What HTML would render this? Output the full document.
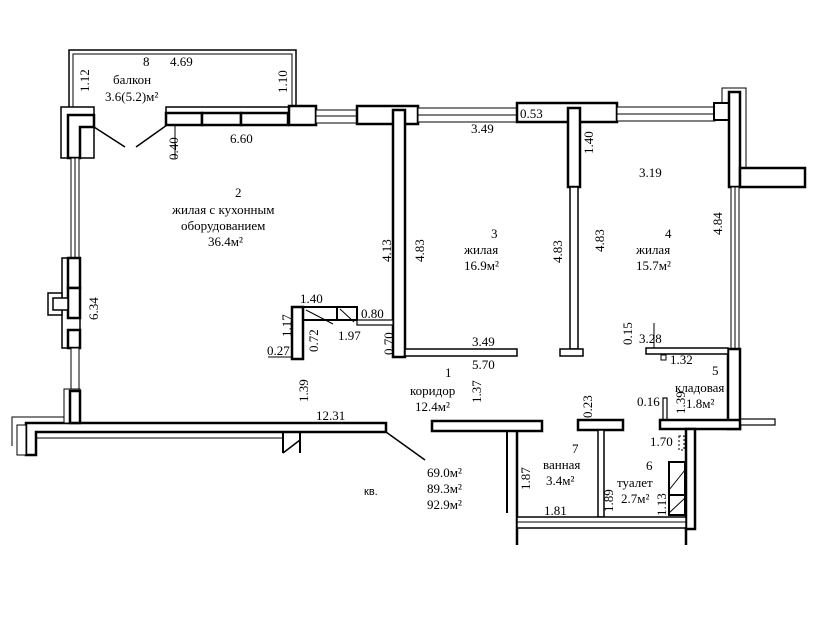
<!DOCTYPE html>
<html><head><meta charset="utf-8"><style>body{margin:0;background:#fff}svg{display:block}text{font-family:"Liberation Serif",serif;font-size:13px;fill:#000}</style></head><body>
<svg width="820" height="632" viewBox="0 0 820 632" xmlns="http://www.w3.org/2000/svg">
<g fill="#fff" stroke="#000" stroke-width="2">
<path d="M69 107 V50 H296 V106" fill="none" stroke-width="1.5"/>
<path d="M73 107 V54 H292 V106" fill="none" stroke-width="1"/>
<rect x="61" y="107" width="33" height="51" stroke-width="1.5"/>
<path d="M68 158 V115 H94 V127 H80 V158 Z" fill="#fff" stroke-width="2.5"/>
<line x1="94" y1="127" x2="125" y2="147" stroke-width="1.5"/>
<line x1="167" y1="125" x2="136" y2="147" stroke-width="1.5"/>
<rect x="166" y="107" width="150" height="6" stroke-width="1.5"/>
<rect x="166" y="113" width="36" height="12" stroke-width="2.5"/>
<rect x="202" y="113" width="39" height="12" stroke-width="2.5"/>
<rect x="241" y="113" width="47" height="12" stroke-width="2.5"/>
<rect x="289" y="106" width="27" height="19" stroke-width="2.5"/>
<rect x="316" y="110" width="42" height="13" stroke-width="1"/>
<line x1="316" y1="116" x2="358" y2="116" stroke-width="1"/>
<rect x="357" y="106" width="61" height="18" stroke-width="2.5"/>
<rect x="393" y="110" width="12" height="247" stroke-width="2.5"/>
<rect x="418" y="108" width="99" height="14" stroke-width="1"/>
<line x1="418" y1="115" x2="517" y2="115" stroke-width="1"/>
<rect x="517" y="103" width="100" height="19" stroke-width="2.5"/>
<rect x="568" y="108" width="12" height="79" stroke-width="2.5"/>
<rect x="570" y="187" width="8" height="162" stroke-width="1.5"/>
<rect x="560" y="349" width="23" height="7" stroke-width="1.5"/>
<rect x="617" y="107" width="98" height="14" stroke-width="1"/>
<line x1="617" y1="114" x2="715" y2="114" stroke-width="1"/>
<path d="M722 107 V88 H746 V168" fill="none" stroke-width="1"/>
<rect x="714" y="103" width="22" height="17" stroke-width="2"/>
<rect x="729" y="92" width="11" height="95" stroke-width="2.5"/>
<rect x="740" y="168" width="65" height="19" stroke-width="2.5"/>
<rect x="731" y="187" width="8" height="162" stroke-width="1"/>
<line x1="735" y1="187" x2="735" y2="349" stroke-width="1"/>
<rect x="728" y="349" width="12" height="80" stroke-width="2.5"/>
<rect x="646" y="348" width="82" height="6" stroke-width="1.5"/>
<rect x="661" y="355" width="5" height="5" stroke-width="1"/>
<line x1="654" y1="323" x2="654" y2="348" stroke-width="1"/>
<rect x="663" y="398" width="4" height="22" stroke-width="1.2"/>
<rect x="740" y="419" width="35" height="6" stroke-width="1.2"/>
<rect x="660" y="420" width="80" height="9" stroke-width="2.5"/>
<rect x="686" y="429" width="9" height="100" stroke-width="2.5"/>
<rect x="669" y="462" width="16" height="53" stroke-width="2"/>
<line x1="669" y1="495" x2="685" y2="495" stroke-width="2"/>
<line x1="669" y1="490" x2="685" y2="470" stroke-width="1"/>
<line x1="669" y1="513" x2="685" y2="498" stroke-width="1"/>
<rect x="679" y="436" width="5" height="14" stroke-width="1" stroke-dasharray="2 2"/>
<rect x="432" y="421" width="110" height="10" stroke-width="2.5"/>
<line x1="507" y1="431" x2="507" y2="513" stroke-width="2"/>
<line x1="517" y1="431" x2="517" y2="545" stroke-width="2.5"/>
<rect x="578" y="420" width="45" height="10" stroke-width="2.5"/>
<rect x="598" y="430" width="6" height="87" stroke-width="1.5"/>
<rect x="517" y="517" width="169" height="11" stroke-width="1.5"/>
<line x1="517" y1="522" x2="686" y2="522" stroke-width="1"/>
<line x1="686" y1="528" x2="686" y2="545" stroke-width="2.5"/>
<path d="M26 423 H386 V432 H36 V455 H26 Z" fill="#fff" stroke-width="2.5"/>
<line x1="36" y1="438" x2="283" y2="438" stroke-width="1"/>
<path d="M12 446 V417 H64 V405 H68" fill="none" stroke-width="1"/>
<rect x="17" y="425" width="9" height="30" stroke-width="1"/>
<line x1="283" y1="432" x2="283" y2="453" stroke-width="2"/>
<line x1="300" y1="432" x2="300" y2="453" stroke-width="2"/>
<line x1="283" y1="453" x2="300" y2="440" stroke-width="1.5"/>
<line x1="386" y1="432" x2="425" y2="460" stroke-width="1.5"/>
<rect x="71" y="158" width="8" height="100" stroke-width="1"/>
<line x1="75" y1="158" x2="75" y2="258" stroke-width="1"/>
<rect x="62" y="258" width="18" height="90" stroke-width="1.5"/>
<rect x="68" y="258" width="12" height="30" stroke-width="2.5"/>
<rect x="68" y="288" width="12" height="30" stroke-width="2.5"/>
<rect x="48" y="293" width="14" height="22" stroke-width="1.5"/>
<rect x="53" y="298" width="15" height="12" stroke-width="1.5"/>
<rect x="68" y="330" width="12" height="18" stroke-width="2.5"/>
<rect x="71" y="348" width="8" height="42" stroke-width="1"/>
<rect x="64" y="389" width="16" height="34" stroke-width="1"/>
<rect x="70" y="391" width="10" height="32" stroke-width="2.5"/>
<rect x="292" y="307" width="65" height="13" stroke-width="2"/>
<rect x="292" y="307" width="11" height="52" stroke-width="2.5"/>
<line x1="337" y1="307" x2="337" y2="320" stroke-width="2"/>
<line x1="306" y1="310" x2="333" y2="324" stroke-width="1"/>
<line x1="340" y1="309" x2="354" y2="322" stroke-width="1"/>
<rect x="357" y="320" width="36" height="5" stroke-width="1.2"/>
<line x1="268" y1="357" x2="292" y2="357" stroke-width="1"/>
<rect x="405" y="349" width="112" height="7" stroke-width="1.5"/>
<line x1="175" y1="125" x2="175" y2="158" stroke-width="1"/>
</g>
<text x="143" y="66">8</text><text x="170" y="66">4.69</text>
<text x="113" y="84">балкон</text><text x="105" y="101">3.6(5.2)м²</text>
<text transform="translate(89,92) rotate(-90)">1.12</text>
<text transform="translate(287,93) rotate(-90)">1.10</text>
<text x="230" y="143">6.60</text>
<text transform="translate(178,160) rotate(-90)">0.40</text>
<text x="235" y="197">2</text>
<text x="172" y="214">жилая с кухонным</text>
<text x="181" y="230">оборудованием</text>
<text x="208" y="246">36.4м²</text>
<text transform="translate(98,320) rotate(-90)">6.34</text>
<text transform="translate(391,262) rotate(-90)">4.13</text>
<text transform="translate(424,262) rotate(-90)">4.83</text>
<text x="300" y="303">1.40</text>
<text x="361" y="318">0.80</text>
<text x="338" y="340">1.97</text>
<text transform="translate(291,337) rotate(-90)">1.17</text>
<text transform="translate(318,352) rotate(-90)">0.72</text>
<text transform="translate(393,355) rotate(-90)">0.70</text>
<text x="267" y="355">0.27</text>
<text transform="translate(308,402) rotate(-90)">1.39</text>
<text x="316" y="420">12.31</text>
<text x="471" y="133">3.49</text>
<text x="520" y="118">0.53</text>
<text transform="translate(593,154) rotate(-90)">1.40</text>
<text x="639" y="177">3.19</text>
<text x="491" y="238">3</text><text x="464" y="254">жилая</text><text x="464" y="270">16.9м²</text>
<text transform="translate(562,263) rotate(-90)">4.83</text>
<text transform="translate(604,252) rotate(-90)">4.83</text>
<text x="665" y="238">4</text><text x="636" y="254">жилая</text><text x="636" y="270">15.7м²</text>
<text transform="translate(722,235) rotate(-90)">4.84</text>
<text x="472" y="346">3.49</text>
<text transform="translate(632,345) rotate(-90)">0.15</text>
<text x="639" y="343">3.28</text>
<text x="670" y="364">1.32</text>
<text x="472" y="369">5.70</text>
<text x="712" y="375">5</text>
<text x="675" y="392">кладовая</text>
<text x="686" y="408">1.8м²</text>
<text x="445" y="377">1</text>
<text x="410" y="395">коридор</text><text x="415" y="411">12.4м²</text>
<text transform="translate(481,403) rotate(-90)">1.37</text>
<text transform="translate(592,418) rotate(-90)">0.23</text>
<text x="637" y="406">0.16</text>
<text transform="translate(685,414) rotate(-90)">1.39</text>
<text x="650" y="446">1.70</text>
<text x="572" y="453">7</text><text x="543" y="469">ванная</text><text x="546" y="485">3.4м²</text>
<text x="646" y="470">6</text><text x="617" y="487">туалет</text><text x="621" y="503">2.7м²</text>
<text transform="translate(530,490) rotate(-90)">1.87</text>
<text transform="translate(613,512) rotate(-90)">1.89</text>
<text transform="translate(666,516) rotate(-90)">1.13</text>
<text x="544" y="515">1.81</text>
<text x="427" y="477">69.0м²</text><text x="427" y="493">89.3м²</text><text x="427" y="509">92.9м²</text>
<text x="364" y="495" style="font-family:'Liberation Sans',sans-serif;font-size:11px">кв.</text>
</svg>
</body></html>
